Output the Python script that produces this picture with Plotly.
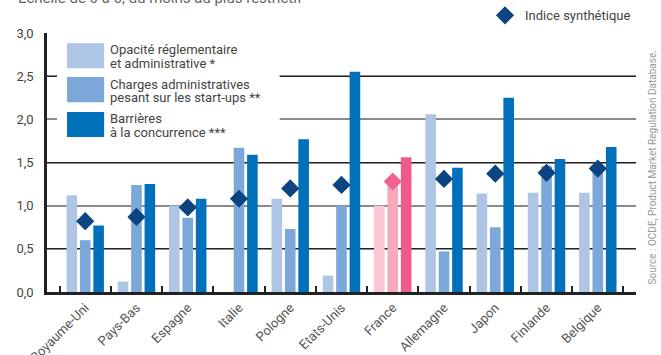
import plotly.graph_objects as go

countries = ["Royaume-Uni", "Pays-Bas", "Espagne", "Italie", "Pologne", "Etats-Unis",
             "France", "Allemagne", "Japon", "Finlande", "Belgique"]
opacite = [1.12, 0.12, 1.00, 0.0, 1.08, 0.19, 1.00, 2.06, 1.14, 1.15, 1.15]
charges = [0.60, 1.24, 0.86, 1.67, 0.73, 1.00, 1.26, 0.47, 0.75, 1.46, 1.45]
barrieres = [0.77, 1.25, 1.08, 1.59, 1.77, 2.55, 1.56, 1.44, 2.25, 1.54, 1.68]
indice = [0.82, 0.87, 0.98, 1.08, 1.20, 1.24, 1.28, 1.31, 1.37, 1.38, 1.43]

series_names = ["Opacité réglementaire<br>et administrative *",
                "Charges administratives<br>pesant sur les start-ups **",
                "Barrières<br>à la concurrence ***"]
indice_name = "Indice synthétique"
yticks = [0, 0.5, 1.0, 1.5, 2.0, 2.5, 3.0]
subtitle = "Échelle de 0 à 6, du moins au plus restrictif"
source = "Source : OCDE, Product Market Regulation Database."

BLUE = ["#AFC5E6", "#7CA7D9", "#0070BA"]
PINK = ["#F8C9D5", "#F5A9BA", "#EF5A8A"]
NAVY = "#0B4480"
PINK_D = "#F0638F"
hl = "France"

def colors(i):
    return [PINK[i] if c == hl else BLUE[i] for c in countries]

FONT = "Roboto"
fig = go.Figure()
for i, vals in enumerate([opacite, charges, barrieres]):
    fig.add_trace(go.Bar(x=countries, y=vals, name=series_names[i],
                         marker=dict(color=colors(i), line=dict(width=0)),
                         showlegend=False))
fig.add_trace(go.Scatter(x=countries, y=indice, mode="markers", name=indice_name,
                         marker=dict(symbol="diamond", size=14,
                                     color=[PINK_D if c == hl else NAVY for c in countries],
                                     line=dict(width=0)),
                         showlegend=True))

# dark gridlines at half steps via overlay axis
fig.add_trace(go.Scatter(x=[countries[0]], y=[None], yaxis="y2", showlegend=False,
                         hoverinfo="skip"))

shapes = []
# white legend box
shapes.append(dict(type="rect", xref="paper", yref="paper", x0=0.017, x1=0.395,
                   y0=0.579, y1=0.98, fillcolor="white", line=dict(width=0), layer="above"))
sw = [(0.960, 0.864), (0.830, 0.733), (0.695, 0.598)]
for i, (y1, y0) in enumerate(sw):
    shapes.append(dict(type="rect", xref="paper", yref="paper", x0=0.034, x1=0.097,
                       y0=y0, y1=y1, fillcolor=BLUE[i], line=dict(width=0), layer="above"))

annotations = []
line_centers = [(49.5, 63.5), (84, 97.5), (118.5, 132.5)]
for i, name in enumerate(series_names):
    parts = name.split("<br>")
    for part, py in zip(parts, line_centers[i]):
        annotations.append(dict(text=part, xref="paper", yref="paper",
                                x=0.1036, y=(292.5 - py) / 259.8, xanchor="left",
                                yanchor="middle", showarrow=False,
                                font=dict(size=13, color="#444", family=FONT)))
annotations.append(dict(text=subtitle, xref="paper", yref="paper", x=-0.053, y=1.092,
                        xanchor="left", yanchor="bottom", showarrow=False,
                        font=dict(size=15, color="#666", family=FONT)))
annotations.append(dict(text=source, xref="paper", yref="paper", x=1.028, y=0.483,
                        xanchor="center", yanchor="middle", textangle=-90, showarrow=False,
                        font=dict(size=10, color="#999", family=FONT)))

fig.update_layout(
    width=661, height=355,
    margin=dict(l=47, r=25, t=33, b=62.5, pad=0, autoexpand=False),
    paper_bgcolor="white", plot_bgcolor="white",
    separators=", ",
    barmode="group", bargap=0.215, bargroupgap=0.21,
    font=dict(family=FONT, color="#444", size=13),
    shapes=shapes, annotations=annotations,
    legend=dict(x=1.0, xanchor="right", y=1.068, yanchor="middle", orientation="h",
                font=dict(size=13, color="#444", family=FONT), bgcolor="rgba(0,0,0,0)",
                itemwidth=30),
    xaxis=dict(showline=True, linecolor="#222", linewidth=3, ticks="inside",
               tickson="boundaries", ticklen=6, tickwidth=2, tickcolor="#222",
               tickangle=-45, tickfont=dict(size=13, color="#555", family=FONT),
               showgrid=False, mirror=False, automargin=False),
    yaxis=dict(range=[0, 3.0], tickvals=yticks, tickformat=".1f", showline=True,
               linecolor="#222", linewidth=2.5, ticks="", ticklabelstandoff=8,
               showgrid=True, gridcolor="#8A8A8A", gridwidth=1.5, zeroline=False,
               automargin=False,
               tickfont=dict(size=13, color="#444", family=FONT)),
    yaxis2=dict(range=[0, 3.0], overlaying="y", tickvals=[0.5, 1.5, 2.5], showgrid=True,
                gridcolor="#222", gridwidth=1.3, showticklabels=False, showline=False,
                zeroline=False, ticks="", automargin=False),
)
fig.write_html("out.html", config={"displayModeBar": False},
               post_script="document.body.style.margin='0';document.body.style.overflow='hidden';")
